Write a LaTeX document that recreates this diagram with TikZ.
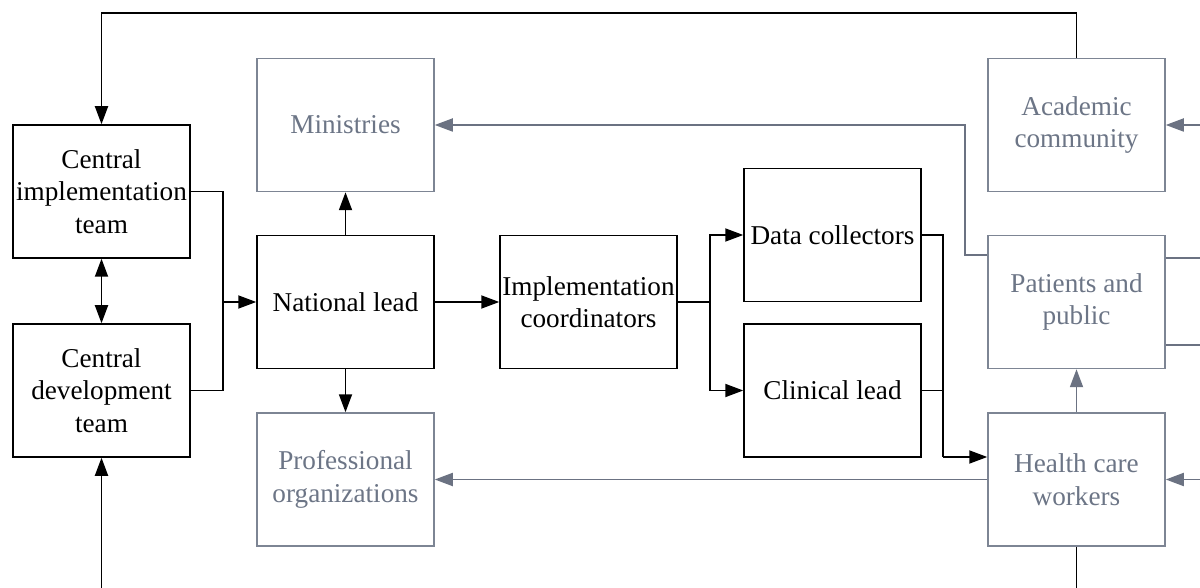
\documentclass[tikz,border=0pt]{standalone}
\usepackage{fontspec}
\setmainfont{Liberation Serif}
\usetikzlibrary{arrows.meta}
\definecolor{gr}{RGB}{107,114,130}
\definecolor{grbox}{RGB}{125,133,148}
\definecolor{grtxt}{RGB}{108,117,134}
\begin{document}
\begin{tikzpicture}[x=0.5pt,y=-0.5pt,
 box/.style={draw=black, line width=0.75pt, minimum width=88.5pt, minimum height=66.5pt, inner sep=0pt, align=center, font=\fontsize{13.6}{16.25}\selectfont, text=black},
 gbox/.style={box, draw=grbox, text=grtxt},
 tip/.style={-{Triangle[length=9pt,width=6.5pt]}},
 wire/.style={line width=0.9pt, draw=black},
 conn/.style={wire, tip},
 gwire/.style={line width=0.9pt, draw=gr},
 gconn/.style={gwire, tip},
 dconn/.style={wire, {Triangle[length=9pt,width=6.5pt]}-{Triangle[length=9pt,width=6.5pt]}}]
\useasboundingbox (0,0) rectangle (1200,588);
\fill[white] (0,0) rectangle (1200,588);
% nodes
\node[box]  (cit) at (101.5,191.5) {Central\\implementation\\team};
\node[box]  (cdt) at (101.5,390.5) {Central\\development\\team};
\node[gbox] (min) at (345.5,125) {Ministries};
\node[box]  (nl)  at (345.5,302) {National lead};
\node[gbox] (po)  at (345.5,479.5) {Professional\\organizations};
\node[box]  (ic)  at (588.5,302) {Implementation\\coordinators};
\node[box]  (dc)  at (832.5,235) {Data collectors};
\node[box]  (cl)  at (832.5,390.5) {Clinical lead};
\node[gbox] (ac)  at (1076.5,125) {Academic\\community};
\node[gbox] (pp)  at (1076.5,302) {Patients and\\public};
\node[gbox] (hcw) at (1076.5,479.5) {Health care\\workers};
% coordinates
\coordinate (topR) at (1076.5,13);
\coordinate (topL) at (101.5,13);
\coordinate (botL) at (101.5,588);
\coordinate (botR) at (1076.5,588);
\coordinate (j1) at (223,302);
\coordinate (j2) at (710,302);
\coordinate (j3) at (943,457);
\coordinate (g1) at (965,125);
\coordinate (r1) at (1200,125);
\coordinate (r2) at (1200,479.5);
\coordinate (r3) at (1200,258);
\coordinate (r4) at (1200,345);
% black connectors
\draw[conn] (ac.north) -- (topR) -- (topL) -- (cit.north);
\draw[conn] (botL) -- (cdt.south);
\draw[wire] (hcw.south) -- (botR);
\draw[dconn] (cit.south) -- (cdt.north);
\draw[wire] (cit.east) -| (j1);
\draw[wire] (cdt.east) -| (j1);
\draw[conn] (j1) -- (nl.west);
\draw[conn] (nl.north) -- (min.south);
\draw[conn] (nl.south) -- (po.north);
\draw[conn] (nl.east) -- (ic.west);
\draw[wire] (ic.east) -- (j2);
\draw[conn] (j2) |- (dc.west);
\draw[conn] (j2) |- (cl.west);
\draw[wire] (dc.east) -| (j3);
\draw[wire] (cl.east) -| (j3);
\draw[conn] (j3) -- (j3 -| hcw.west);
% gray connectors
\draw[gconn] ([yshift=-10pt]pp.north west) -| (g1) -- (min.east);
\draw[gconn] (hcw.west) -- (po.east);
\draw[gconn] (hcw.north) -- (pp.south);
\draw[gconn] (r1) -- (ac.east);
\draw[gconn] (r2) -- (hcw.east);
\draw[gwire] (pp.east |- r3) -- (r3);
\draw[gwire] (pp.east |- r4) -- (r4);
\end{tikzpicture}
\end{document}
